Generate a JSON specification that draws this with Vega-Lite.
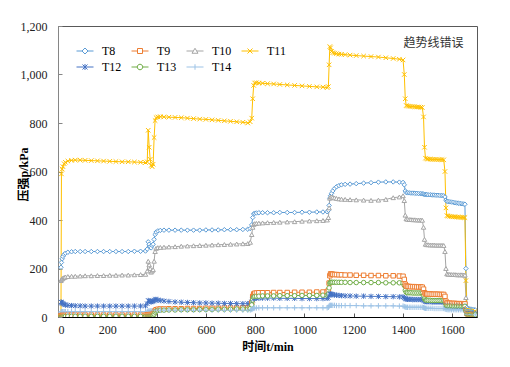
{
  "$schema": "https://vega.github.io/schema/vega-lite/v6.json",
  "width": 419,
  "height": 291,
  "autosize": "none",
  "padding": {"left": 58, "top": 26, "right": 33, "bottom": 50},
  "background": "white",
  "config": {
    "view": {"stroke": "#595959", "strokeWidth": 1},
    "legend": {
      "orient": "none",
      "legendX": 21,
      "legendY": 19,
      "columns": 4,
      "direction": "horizontal",
      "labelFont": "Liberation Serif",
      "labelFontSize": 12,
      "labelColor": "#000000",
      "symbolSize": 100,
      "symbolStrokeWidth": 1,
      "labelOffset": 11,
      "columnPadding": 7,
      "rowPadding": 4,
      "padding": 0
    }
  },
  "datasets": {
    "p": [
      {"t": 12, "T8": 205, "T9": 5, "T10": 150, "T11": 0, "T12": 62, "T13": 3, "T14": 20},
      {"t": 14, "T8": 225, "T9": 6, "T10": 155, "T11": 590, "T12": 60, "T13": 3, "T14": 22},
      {"t": 17, "T8": 240, "T9": 7, "T10": 158, "T11": 610, "T12": 57, "T13": 3, "T14": 22},
      {"t": 20, "T8": 250, "T9": 7, "T10": 160, "T11": 620, "T12": 55, "T13": 3, "T14": 22},
      {"t": 25, "T8": 258, "T9": 7, "T10": 163, "T11": 632, "T12": 52, "T13": 3, "T14": 22},
      {"t": 30, "T8": 263, "T9": 7, "T10": 165, "T11": 638, "T12": 50, "T13": 3, "T14": 22},
      {"t": 40, "T8": 267, "T9": 8, "T10": 167, "T11": 643, "T12": 48, "T13": 3, "T14": 22},
      {"t": 55, "T8": 269, "T9": 8, "T10": 168, "T11": 646, "T12": 47, "T13": 3, "T14": 22},
      {"t": 70, "T8": 270, "T9": 8, "T10": 168, "T11": 647, "T12": 46, "T13": 3, "T14": 22},
      {"t": 90, "T8": 270, "T9": 8, "T10": 169, "T11": 647, "T12": 46, "T13": 3, "T14": 22},
      {"t": 110, "T8": 270, "T9": 8, "T10": 170, "T11": 646, "T12": 45, "T13": 3, "T14": 22},
      {"t": 135, "T8": 270, "T9": 8, "T10": 170, "T11": 645, "T12": 45, "T13": 3, "T14": 22},
      {"t": 160, "T8": 270, "T9": 8, "T10": 171, "T11": 644, "T12": 45, "T13": 3, "T14": 22},
      {"t": 185, "T8": 270, "T9": 8, "T10": 171, "T11": 643, "T12": 45, "T13": 3, "T14": 22},
      {"t": 210, "T8": 270, "T9": 8, "T10": 172, "T11": 642, "T12": 45, "T13": 3, "T14": 22},
      {"t": 235, "T8": 270, "T9": 8, "T10": 172, "T11": 641, "T12": 45, "T13": 3, "T14": 22},
      {"t": 260, "T8": 270, "T9": 8, "T10": 173, "T11": 640, "T12": 45, "T13": 3, "T14": 22},
      {"t": 285, "T8": 270, "T9": 8, "T10": 173, "T11": 640, "T12": 45, "T13": 3, "T14": 22},
      {"t": 310, "T8": 271, "T9": 8, "T10": 174, "T11": 639, "T12": 45, "T13": 3, "T14": 22},
      {"t": 335, "T8": 271, "T9": 8, "T10": 175, "T11": 638, "T12": 45, "T13": 3, "T14": 22},
      {"t": 355, "T8": 272, "T9": 8, "T10": 176, "T11": 637, "T12": 46, "T13": 3, "T14": 22},
      {"t": 362, "T8": 280, "T9": 9, "T10": 190, "T11": 640, "T12": 55, "T13": 4, "T14": 23},
      {"t": 366, "T8": 310, "T9": 10, "T10": 230, "T11": 770, "T12": 68, "T13": 5, "T14": 24},
      {"t": 370, "T8": 300, "T9": 10, "T10": 215, "T11": 700, "T12": 66, "T13": 5, "T14": 24},
      {"t": 374, "T8": 290, "T9": 11, "T10": 200, "T11": 650, "T12": 64, "T13": 6, "T14": 25},
      {"t": 378, "T8": 285, "T9": 11, "T10": 185, "T11": 625, "T12": 62, "T13": 6, "T14": 25},
      {"t": 382, "T8": 295, "T9": 12, "T10": 190, "T11": 620, "T12": 64, "T13": 7, "T14": 25},
      {"t": 386, "T8": 300, "T9": 13, "T10": 195, "T11": 630, "T12": 66, "T13": 8, "T14": 26},
      {"t": 390, "T8": 320, "T9": 18, "T10": 230, "T11": 740, "T12": 68, "T13": 12, "T14": 26},
      {"t": 394, "T8": 340, "T9": 25, "T10": 270, "T11": 810, "T12": 72, "T13": 20, "T14": 27},
      {"t": 398, "T8": 350, "T9": 30, "T10": 283, "T11": 822, "T12": 72, "T13": 25, "T14": 28},
      {"t": 405, "T8": 355, "T9": 32, "T10": 286, "T11": 825, "T12": 70, "T13": 27, "T14": 28},
      {"t": 415, "T8": 357, "T9": 33, "T10": 287, "T11": 826, "T12": 68, "T13": 28, "T14": 28},
      {"t": 430, "T8": 358, "T9": 33, "T10": 288, "T11": 825, "T12": 66, "T13": 28, "T14": 28},
      {"t": 450, "T8": 358, "T9": 34, "T10": 289, "T11": 824, "T12": 64, "T13": 29, "T14": 28},
      {"t": 475, "T8": 358, "T9": 34, "T10": 290, "T11": 823, "T12": 62, "T13": 29, "T14": 28},
      {"t": 500, "T8": 358, "T9": 34, "T10": 292, "T11": 822, "T12": 61, "T13": 30, "T14": 28},
      {"t": 525, "T8": 358, "T9": 35, "T10": 293, "T11": 820, "T12": 60, "T13": 30, "T14": 28},
      {"t": 550, "T8": 358, "T9": 35, "T10": 294, "T11": 818, "T12": 59, "T13": 30, "T14": 28},
      {"t": 575, "T8": 358, "T9": 35, "T10": 295, "T11": 816, "T12": 58, "T13": 31, "T14": 28},
      {"t": 600, "T8": 359, "T9": 36, "T10": 296, "T11": 815, "T12": 58, "T13": 31, "T14": 28},
      {"t": 625, "T8": 359, "T9": 36, "T10": 297, "T11": 813, "T12": 57, "T13": 31, "T14": 28},
      {"t": 650, "T8": 359, "T9": 36, "T10": 298, "T11": 811, "T12": 57, "T13": 32, "T14": 28},
      {"t": 675, "T8": 360, "T9": 37, "T10": 299, "T11": 809, "T12": 56, "T13": 32, "T14": 28},
      {"t": 700, "T8": 360, "T9": 37, "T10": 300, "T11": 807, "T12": 56, "T13": 32, "T14": 28},
      {"t": 725, "T8": 360, "T9": 37, "T10": 301, "T11": 805, "T12": 55, "T13": 33, "T14": 28},
      {"t": 750, "T8": 361, "T9": 38, "T10": 302, "T11": 803, "T12": 55, "T13": 33, "T14": 28},
      {"t": 770, "T8": 362, "T9": 38, "T10": 303, "T11": 800, "T12": 55, "T13": 33, "T14": 28},
      {"t": 780, "T8": 365, "T9": 40, "T10": 308, "T11": 805, "T12": 56, "T13": 35, "T14": 29},
      {"t": 786, "T8": 380, "T9": 60, "T10": 340, "T11": 820, "T12": 62, "T13": 50, "T14": 31},
      {"t": 790, "T8": 410, "T9": 85, "T10": 370, "T11": 900, "T12": 70, "T13": 70, "T14": 34},
      {"t": 794, "T8": 425, "T9": 95, "T10": 382, "T11": 955, "T12": 76, "T13": 82, "T14": 36},
      {"t": 798, "T8": 428, "T9": 98, "T10": 385, "T11": 965, "T12": 78, "T13": 85, "T14": 37},
      {"t": 805, "T8": 429, "T9": 99, "T10": 386, "T11": 966, "T12": 78, "T13": 86, "T14": 37},
      {"t": 815, "T8": 430, "T9": 100, "T10": 387, "T11": 965, "T12": 78, "T13": 86, "T14": 38},
      {"t": 830, "T8": 430, "T9": 100, "T10": 388, "T11": 964, "T12": 78, "T13": 87, "T14": 38},
      {"t": 850, "T8": 430, "T9": 100, "T10": 389, "T11": 962, "T12": 78, "T13": 87, "T14": 38},
      {"t": 875, "T8": 430, "T9": 101, "T10": 390, "T11": 961, "T12": 78, "T13": 87, "T14": 38},
      {"t": 900, "T8": 431, "T9": 101, "T10": 391, "T11": 959, "T12": 77, "T13": 88, "T14": 38},
      {"t": 930, "T8": 431, "T9": 101, "T10": 392, "T11": 957, "T12": 77, "T13": 88, "T14": 38},
      {"t": 960, "T8": 431, "T9": 102, "T10": 393, "T11": 955, "T12": 77, "T13": 88, "T14": 38},
      {"t": 990, "T8": 432, "T9": 102, "T10": 395, "T11": 953, "T12": 76, "T13": 89, "T14": 38},
      {"t": 1020, "T8": 432, "T9": 102, "T10": 396, "T11": 951, "T12": 76, "T13": 89, "T14": 38},
      {"t": 1050, "T8": 433, "T9": 103, "T10": 397, "T11": 949, "T12": 76, "T13": 89, "T14": 38},
      {"t": 1075, "T8": 433, "T9": 103, "T10": 398, "T11": 948, "T12": 76, "T13": 90, "T14": 38},
      {"t": 1092, "T8": 434, "T9": 103, "T10": 400, "T11": 946, "T12": 77, "T13": 90, "T14": 38},
      {"t": 1097, "T8": 440, "T9": 110, "T10": 410, "T11": 950, "T12": 80, "T13": 95, "T14": 40},
      {"t": 1100, "T8": 460, "T9": 140, "T10": 450, "T11": 1040, "T12": 88, "T13": 120, "T14": 45},
      {"t": 1103, "T8": 490, "T9": 170, "T10": 490, "T11": 1115, "T12": 95, "T13": 140, "T14": 48},
      {"t": 1106, "T8": 500, "T9": 178, "T10": 496, "T11": 1110, "T12": 95, "T13": 143, "T14": 48},
      {"t": 1110, "T8": 510, "T9": 177, "T10": 495, "T11": 1095, "T12": 94, "T13": 143, "T14": 48},
      {"t": 1115, "T8": 520, "T9": 176, "T10": 493, "T11": 1090, "T12": 92, "T13": 143, "T14": 48},
      {"t": 1122, "T8": 530, "T9": 175, "T10": 491, "T11": 1088, "T12": 91, "T13": 143, "T14": 48},
      {"t": 1130, "T8": 537, "T9": 175, "T10": 489, "T11": 1086, "T12": 90, "T13": 143, "T14": 47},
      {"t": 1140, "T8": 542, "T9": 174, "T10": 487, "T11": 1084, "T12": 89, "T13": 143, "T14": 47},
      {"t": 1150, "T8": 545, "T9": 174, "T10": 486, "T11": 1083, "T12": 88, "T13": 143, "T14": 47},
      {"t": 1165, "T8": 547, "T9": 173, "T10": 485, "T11": 1082, "T12": 87, "T13": 143, "T14": 47},
      {"t": 1185, "T8": 548, "T9": 173, "T10": 484, "T11": 1080, "T12": 87, "T13": 142, "T14": 47},
      {"t": 1210, "T8": 550, "T9": 172, "T10": 483, "T11": 1078, "T12": 86, "T13": 142, "T14": 47},
      {"t": 1240, "T8": 552, "T9": 172, "T10": 482, "T11": 1076, "T12": 86, "T13": 142, "T14": 46},
      {"t": 1270, "T8": 554, "T9": 171, "T10": 481, "T11": 1074, "T12": 85, "T13": 142, "T14": 46},
      {"t": 1300, "T8": 556, "T9": 171, "T10": 482, "T11": 1072, "T12": 85, "T13": 142, "T14": 46},
      {"t": 1330, "T8": 557, "T9": 170, "T10": 485, "T11": 1069, "T12": 84, "T13": 141, "T14": 46},
      {"t": 1360, "T8": 557, "T9": 170, "T10": 492, "T11": 1066, "T12": 84, "T13": 141, "T14": 46},
      {"t": 1385, "T8": 556, "T9": 169, "T10": 495, "T11": 1063, "T12": 83, "T13": 141, "T14": 45},
      {"t": 1400, "T8": 555, "T9": 168, "T10": 500, "T11": 1060, "T12": 83, "T13": 140, "T14": 45},
      {"t": 1405, "T8": 545, "T9": 155, "T10": 480, "T11": 1000, "T12": 80, "T13": 130, "T14": 43},
      {"t": 1409, "T8": 520, "T9": 135, "T10": 420, "T11": 900, "T12": 76, "T13": 110, "T14": 41},
      {"t": 1413, "T8": 513, "T9": 128, "T10": 405, "T11": 872, "T12": 74, "T13": 102, "T14": 40},
      {"t": 1418, "T8": 512, "T9": 126, "T10": 403, "T11": 870, "T12": 73, "T13": 100, "T14": 40},
      {"t": 1425, "T8": 512, "T9": 126, "T10": 402, "T11": 869, "T12": 73, "T13": 100, "T14": 40},
      {"t": 1432, "T8": 511, "T9": 125, "T10": 402, "T11": 868, "T12": 73, "T13": 100, "T14": 40},
      {"t": 1440, "T8": 511, "T9": 125, "T10": 401, "T11": 868, "T12": 72, "T13": 99, "T14": 40},
      {"t": 1448, "T8": 510, "T9": 125, "T10": 401, "T11": 867, "T12": 72, "T13": 99, "T14": 40},
      {"t": 1456, "T8": 510, "T9": 124, "T10": 400, "T11": 866, "T12": 72, "T13": 99, "T14": 40},
      {"t": 1464, "T8": 509, "T9": 124, "T10": 400, "T11": 866, "T12": 72, "T13": 99, "T14": 40},
      {"t": 1472, "T8": 509, "T9": 124, "T10": 400, "T11": 865, "T12": 72, "T13": 99, "T14": 40},
      {"t": 1478, "T8": 508, "T9": 123, "T10": 399, "T11": 864, "T12": 72, "T13": 98, "T14": 40},
      {"t": 1483, "T8": 507, "T9": 115, "T10": 370, "T11": 825, "T12": 70, "T13": 90, "T14": 39},
      {"t": 1487, "T8": 506, "T9": 100, "T10": 320, "T11": 700, "T12": 66, "T13": 75, "T14": 37},
      {"t": 1491, "T8": 505, "T9": 96, "T10": 300, "T11": 655, "T12": 64, "T13": 70, "T14": 36},
      {"t": 1496, "T8": 505, "T9": 95, "T10": 298, "T11": 652, "T12": 63, "T13": 69, "T14": 36},
      {"t": 1502, "T8": 504, "T9": 95, "T10": 298, "T11": 651, "T12": 63, "T13": 69, "T14": 36},
      {"t": 1510, "T8": 504, "T9": 95, "T10": 297, "T11": 651, "T12": 63, "T13": 69, "T14": 36},
      {"t": 1518, "T8": 503, "T9": 94, "T10": 297, "T11": 650, "T12": 62, "T13": 68, "T14": 36},
      {"t": 1526, "T8": 503, "T9": 94, "T10": 297, "T11": 650, "T12": 62, "T13": 68, "T14": 35},
      {"t": 1534, "T8": 502, "T9": 94, "T10": 296, "T11": 650, "T12": 62, "T13": 68, "T14": 35},
      {"t": 1542, "T8": 502, "T9": 94, "T10": 296, "T11": 649, "T12": 62, "T13": 68, "T14": 35},
      {"t": 1550, "T8": 501, "T9": 93, "T10": 296, "T11": 649, "T12": 62, "T13": 68, "T14": 35},
      {"t": 1558, "T8": 501, "T9": 93, "T10": 296, "T11": 649, "T12": 62, "T13": 67, "T14": 35},
      {"t": 1565, "T8": 500, "T9": 93, "T10": 295, "T11": 648, "T12": 61, "T13": 67, "T14": 35},
      {"t": 1570, "T8": 495, "T9": 85, "T10": 270, "T11": 600, "T12": 58, "T13": 62, "T14": 34},
      {"t": 1574, "T8": 482, "T9": 65, "T10": 200, "T11": 450, "T12": 50, "T13": 52, "T14": 32},
      {"t": 1578, "T8": 477, "T9": 58, "T10": 178, "T11": 418, "T12": 47, "T13": 47, "T14": 31},
      {"t": 1583, "T8": 476, "T9": 57, "T10": 176, "T11": 416, "T12": 46, "T13": 46, "T14": 30},
      {"t": 1590, "T8": 475, "T9": 57, "T10": 176, "T11": 415, "T12": 46, "T13": 46, "T14": 30},
      {"t": 1597, "T8": 474, "T9": 56, "T10": 175, "T11": 414, "T12": 46, "T13": 46, "T14": 30},
      {"t": 1604, "T8": 473, "T9": 56, "T10": 175, "T11": 413, "T12": 45, "T13": 45, "T14": 30},
      {"t": 1611, "T8": 471, "T9": 56, "T10": 175, "T11": 413, "T12": 45, "T13": 45, "T14": 30},
      {"t": 1618, "T8": 470, "T9": 55, "T10": 174, "T11": 412, "T12": 45, "T13": 45, "T14": 30},
      {"t": 1625, "T8": 469, "T9": 55, "T10": 174, "T11": 412, "T12": 45, "T13": 45, "T14": 30},
      {"t": 1632, "T8": 468, "T9": 55, "T10": 174, "T11": 411, "T12": 45, "T13": 45, "T14": 30},
      {"t": 1639, "T8": 467, "T9": 55, "T10": 174, "T11": 411, "T12": 45, "T13": 44, "T14": 30},
      {"t": 1646, "T8": 466, "T9": 54, "T10": 173, "T11": 410, "T12": 44, "T13": 44, "T14": 30},
      {"t": 1651, "T8": 465, "T9": 54, "T10": 173, "T11": 410, "T12": 44, "T13": 44, "T14": 30},
      {"t": 1655, "T8": 200, "T9": 30, "T10": 80, "T11": 150, "T12": 30, "T13": 25, "T14": 20},
      {"t": 1659, "T8": 40, "T9": 15, "T10": 30, "T11": 35, "T12": 18, "T13": 12, "T14": 12},
      {"t": 1663, "T8": 35, "T9": 13, "T10": 26, "T11": 30, "T12": 16, "T13": 11, "T14": 11},
      {"t": 1668, "T8": 33, "T9": 12, "T10": 24, "T11": 28, "T12": 15, "T13": 10, "T14": 10},
      {"t": 1673, "T8": 32, "T9": 12, "T10": 23, "T11": 27, "T12": 15, "T13": 10, "T14": 10},
      {"t": 1678, "T8": 31, "T9": 11, "T10": 22, "T11": 26, "T12": 14, "T13": 9, "T14": 10},
      {"t": 1683, "T8": 30, "T9": 11, "T10": 22, "T11": 25, "T12": 14, "T13": 9, "T14": 9},
      {"t": 1688, "T8": 30, "T9": 11, "T10": 21, "T11": 25, "T12": 14, "T13": 9, "T14": 9},
      {"t": 1693, "T8": 29, "T9": 10, "T10": 21, "T11": 24, "T12": 13, "T13": 9, "T14": 9}
    ],
    "note": [{"label": "趋势线错误"}]
  },
  "layer": [
    {
      "data": {"name": "p"},
      "transform": [{"fold": ["T8", "T9", "T10", "T11", "T12", "T13", "T14"], "as": ["series", "value"]}],
      "mark": {"type": "line", "strokeWidth": 1, "clip": true},
      "encoding": {
        "x": {
          "field": "t",
          "type": "quantitative",
          "scale": {"domain": [0, 1700], "nice": false},
          "axis": {
            "title": "时间t/min",
            "values": [0, 200, 400, 600, 800, 1000, 1200, 1400, 1600],
            "format": "d",
            "grid": false,
            "domainColor": "#000000",
            "tickColor": "#595959",
            "tickSize": -4,
            "labelPadding": 11,
            "labelFont": "Liberation Serif",
            "labelFontSize": 12,
            "labelColor": "#222222",
            "titleFont": "Liberation Serif, Noto Sans CJK SC",
            "titleFontSize": 12,
            "titleFontWeight": "bold",
            "titleColor": "#000000",
            "titlePadding": 6
          }
        },
        "y": {
          "field": "value",
          "type": "quantitative",
          "scale": {"domain": [0, 1200], "nice": false},
          "axis": {
            "title": "压强p/kPa",
            "values": [0, 200, 400, 600, 800, 1000, 1200],
            "format": ",d",
            "grid": false,
            "domainColor": "#868686",
            "tickColor": "#868686",
            "tickSize": -4,
            "labelPadding": 15,
            "labelFont": "Liberation Serif",
            "labelFontSize": 12,
            "labelColor": "#222222",
            "titleFont": "Liberation Serif, Noto Sans CJK SC",
            "titleFontSize": 12,
            "titleFontWeight": "bold",
            "titleColor": "#000000",
            "titleX": -35,
            "titleY": 148,
            "titleBaseline": "middle",
            "titleAlign": "center",
            "titleAngle": -90
          }
        },
        "color": {
          "field": "series",
          "type": "nominal",
          "scale": {
            "domain": ["T8", "T9", "T10", "T11", "T12", "T13", "T14"],
            "range": ["#5B9BD5", "#ED7D31", "#A5A5A5", "#FFC000", "#4472C4", "#70AD47", "#9DC3E6"]
          },
          "legend": {
            "title": null,
            "encode": {
              "symbols": {
                "update": {
                  "shape": {"signal": "{'T8':'M-1.7,0L-0.6,0M0.6,0L1.7,0M0,-0.6L0.6,0L0,0.6L-0.6,0Z','T9':'M-1.7,0L-0.5,0M0.5,0L1.7,0M-0.5,-0.5L0.5,-0.5L0.5,0.5L-0.5,0.5Z','T10':'M-1.7,0L-0.33,0M0.33,0L1.7,0M0,-0.55L0.6,0.45L-0.6,0.45Z','T11':'M-1.7,0L1.7,0M-0.5,-0.5L0.5,0.5M-0.5,0.5L0.5,-0.5','T12':'M-1.7,0L1.7,0M-0.5,-0.5L0.5,0.5M-0.5,0.5L0.5,-0.5M0,-0.6L0,0.6','T13':'M-1.7,0L-0.55,0M0.55,0L1.7,0M-0.55,0A0.55,0.55,0,1,0,0.55,0A0.55,0.55,0,1,0,-0.55,0Z','T14':'M-1.7,0L1.7,0M0,-0.55L0,0.55'}[datum.value]"},
                  "fill": {"value": "white"}
                }
              }
            }
          }
        }
      }
    },
    {
      "data": {"name": "p"},
      "transform": [{"fold": ["T8", "T9", "T10", "T11", "T12", "T13", "T14"], "as": ["series", "value"]}],
      "mark": {"type": "point", "filled": false, "fill": "white", "size": 20, "strokeWidth": 1, "opacity": 1, "clip": true},
      "encoding": {
        "x": {"field": "t", "type": "quantitative"},
        "y": {"field": "value", "type": "quantitative"},
        "color": {
          "field": "series",
          "type": "nominal",
          "legend": {
            "title": null,
            "encode": {
              "symbols": {
                "update": {
                  "shape": {"signal": "{'T8':'M-1.7,0L-0.6,0M0.6,0L1.7,0M0,-0.6L0.6,0L0,0.6L-0.6,0Z','T9':'M-1.7,0L-0.5,0M0.5,0L1.7,0M-0.5,-0.5L0.5,-0.5L0.5,0.5L-0.5,0.5Z','T10':'M-1.7,0L-0.33,0M0.33,0L1.7,0M0,-0.55L0.6,0.45L-0.6,0.45Z','T11':'M-1.7,0L1.7,0M-0.5,-0.5L0.5,0.5M-0.5,0.5L0.5,-0.5','T12':'M-1.7,0L1.7,0M-0.5,-0.5L0.5,0.5M-0.5,0.5L0.5,-0.5M0,-0.6L0,0.6','T13':'M-1.7,0L-0.55,0M0.55,0L1.7,0M-0.55,0A0.55,0.55,0,1,0,0.55,0A0.55,0.55,0,1,0,-0.55,0Z','T14':'M-1.7,0L1.7,0M0,-0.55L0,0.55'}[datum.value]"},
                  "fill": {"value": "white"}
                }
              }
            }
          }
        },
        "shape": {
          "field": "series",
          "type": "nominal",
          "scale": {
            "domain": ["T14", "T13", "T12", "T11", "T10", "T9", "T8"],
            "range": ["M-1.2,0L1.2,0M0,-1.2L0,1.2", "circle", "M-1,-1L1,1M-1,1L1,-1M0,-1.2L0,1.2", "M-1,-1L1,1M-1,1L1,-1", "triangle-up", "square", "diamond"]
          },
          "legend": null
        }
      }
    },
    {
      "data": {"name": "note"},
      "mark": {"type": "text", "align": "right", "baseline": "middle", "font": "Noto Sans CJK SC", "fontSize": 12, "color": "#333333"},
      "encoding": {
        "x": {"datum": 1645, "type": "quantitative"},
        "y": {"datum": 1130, "type": "quantitative"},
        "text": {"field": "label"}
      }
    }
  ]
}
